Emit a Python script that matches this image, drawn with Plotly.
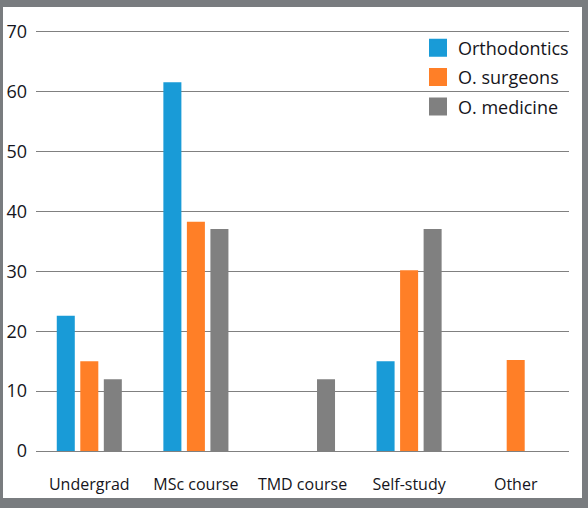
import plotly.graph_objects as go

categories = ["Undergrad", "MSc course", "TMD course", "Self-study", "Other"]
orthodontics = [22.6, 61.6, None, 15.0, None]
o_surgeons = [15.0, 38.3, None, 30.2, 15.2]
o_medicine = [12.0, 37.1, 12.0, 37.1, None]
series_names = ["Orthodontics", "O. surgeons", "O. medicine"]
series_colors = ["#199bd7", "#ff7f27", "#808080"]
y_ticks = [0, 10, 20, 30, 40, 50, 60, 70]

W, H = 588, 508
L, R, T, B = 36, 19, 29, 57

fig = go.Figure()
for i, (name, vals, col) in enumerate(zip(series_names, [orthodontics, o_surgeons, o_medicine], series_colors)):
    fig.add_trace(go.Bar(x=categories, y=vals, name=name, marker_color=col,
                         marker_line_width=0, showlegend=False, legendgroup=str(i)))
# legend entries with larger square swatches
for i, (name, col) in enumerate(zip(series_names, series_colors)):
    fig.add_trace(go.Scatter(x=[None], y=[None], mode="markers", name=name,
                             marker=dict(symbol="square", size=16, color=col,
                                         line=dict(width=2, color=col)),
                             legendgroup=str(i), hoverinfo="skip"))

pw = W - L - R
ph = H - T - B
# white panel inside gray frame (frame: left 3, top 7, right 6, bottom 10)
fig.add_shape(type="rect", xref="paper", yref="paper", layer="below",
              x0=(3 - L) / pw, x1=(W - 6 - L) / pw,
              y0=-(H - 10 - (H - B)) / ph, y1=1 + (T - 7) / ph,
              fillcolor="white", line_width=0)

fig.update_layout(
    template="none",
    width=W, height=H,
    margin=dict(l=L, r=R, t=T, b=B, pad=0, autoexpand=False),
    paper_bgcolor="#797c7f",
    plot_bgcolor="rgba(0,0,0,0)",
    barmode="group", bargap=0.338, bargroupgap=0.234,
    font=dict(family="Open Sans", color="#151520"),
    hovermode=False,
    showlegend=True,
    legend=dict(x=(418 - L) / pw, y=1 - (29.5 - T) / ph, xanchor="left", yanchor="top",
                font=dict(size=18, color="#151520"), bgcolor="rgba(0,0,0,0)",
                traceorder="grouped", tracegroupgap=3),
    xaxis=dict(showgrid=False, showline=False, zeroline=False, ticks="", automargin=False,
               tickfont=dict(size=16), ticklabelstandoff=22),
    yaxis=dict(range=[0, 70.5], tickvals=y_ticks, showgrid=True, gridcolor="#808080",
               gridwidth=1, zeroline=True, zerolinecolor="#808080", zerolinewidth=1,
               automargin=False,
               showline=False, ticks="", tickfont=dict(size=18), ticklabelstandoff=8),
)

fig.write_html("out.html", config={"displayModeBar": False},
               post_script="document.body.style.margin='0';")
